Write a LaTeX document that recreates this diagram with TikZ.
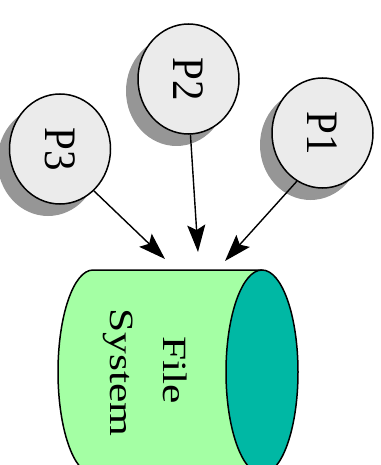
\documentclass[tikz,border=0pt]{standalone}
\usepackage{fontspec}
\setmainfont{Liberation Serif}
\usepackage{graphicx}
\usetikzlibrary{shapes.geometric,arrows.meta,shadows}

\definecolor{procfill}{RGB}{235,235,235}
\definecolor{procshadow}{RGB}{150,150,150}
\definecolor{fsbody}{RGB}{164,255,164}
\definecolor{fsend}{RGB}{0,184,164}

\tikzset{
  proc/.style={ellipse, draw=black, line width=1.5pt, fill=procfill,
    minimum width=101pt, minimum height=110pt, inner sep=0pt,
    general shadow={shadow xshift=-12pt, shadow yshift=-12pt, fill=procshadow}},
  access/.style={line width=1.4pt, -{Stealth[length=27pt,width=18pt,inset=5pt]}},
  fstext/.style={rotate=-90, anchor=base, inner sep=0pt,
    font=\fontsize{34}{40}\selectfont},
  fsline/.style={line width=1.5pt, draw=black},
}
% process label: set sideways, slightly narrowed
\newcommand\proclabel[1]{\rotatebox{-90}{\fontsize{45}{50}\selectfont\scalebox{0.91}[1]{#1}}}
% file system label: set sideways (via node rotation), widened
\newcommand\fslabel[1]{\scalebox{1.28}[1]{#1}}

\begin{document}
\begin{tikzpicture}[x=1pt, y=-1pt]
  \useasboundingbox (0,0) rectangle (380,465);
  \clip (0,0) rectangle (380,465);

  % file system drum, lying on its side
  \fill[fsbody] (262,270) -- (93,270)
    arc[start angle=90, end angle=270, x radius=35pt, y radius=102pt]
    -- (262,474) -- cycle;
  \draw[fsline] (262,270) -- (93,270)
    arc[start angle=90, end angle=270, x radius=35pt, y radius=102pt]
    -- (262,474);
  \draw[fsline, fill=fsend] (262,372) ellipse [x radius=36pt, y radius=102pt];

  \node[fstext] (fsfile) at (163,370) {\fslabel{File}};
  \node[fstext] (fssys) at (110,372.5) {\fslabel{System}};

  % processes
  \node[proc] (p1) at (322.5,133) {\proclabel{P1}};
  \node[proc] (p2) at (188.5,79) {\proclabel{P2}};
  \node[proc] (p3) at (60,149) {\proclabel{P3}};

  % arrow tips just above the drum
  \coordinate (t1) at (225,261);
  \coordinate (t2) at (198,252);
  \coordinate (t3) at (165,259);

  \draw[access] (p1.242) -- (t1);
  \draw[access] (p2.272) -- (t2);
  \draw[access] (p3.309) -- (t3);
\end{tikzpicture}
\end{document}
